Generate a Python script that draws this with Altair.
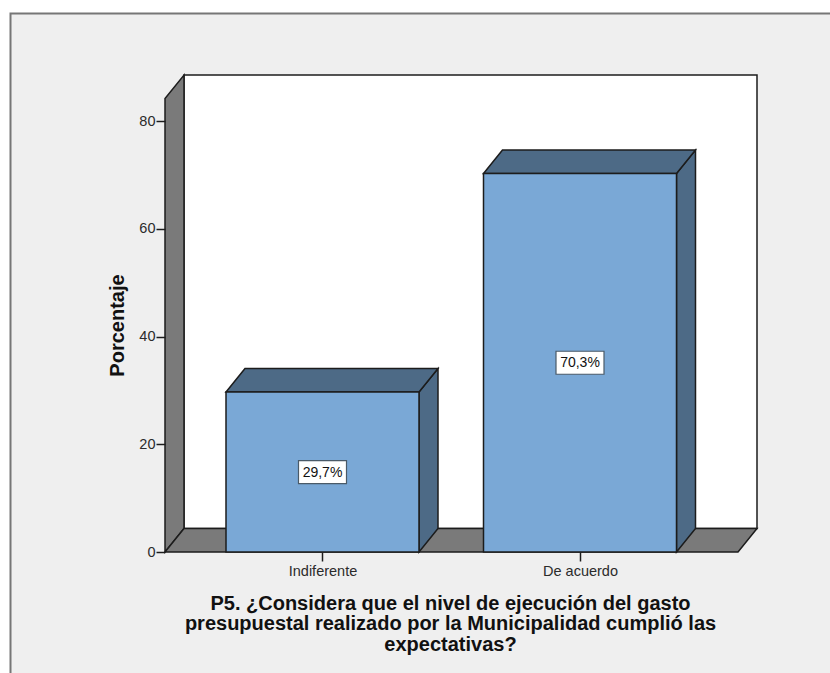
import altair as alt
import pandas as pd

# Chart values
categories = ["Indiferente", "De acuerdo"]
percentages = [29.7, 70.3]
y_ticks = [0, 20, 40, 60, 80]
x_title = [
    "P5. ¿Considera que el nivel de ejecución del gasto",
    "presupuestal realizado por la Municipalidad cumplió las",
    "expectativas?",
]
y_title = "Porcentaje"

# Layout of the pseudo-3D box, in pixels
LEFT, TOP = 165, 75
PLOT_W, PLOT_H = 592, 477
PX_PER_PCT = 5.384
SLOT_PX = 257.5
FIRST_CENTER_PX = 157.5
BAR_PX = 193
DEPTH_X_PX, DEPTH_Y_PX = 19, 23.5

x_min = -FIRST_CENTER_PX / SLOT_PX
x_max = (PLOT_W - FIRST_CENTER_PX) / SLOT_PX
y_max = PLOT_H / PX_PER_PCT
dx = DEPTH_X_PX / SLOT_PX
dy = DEPTH_Y_PX / PX_PER_PCT
half = BAR_PX / SLOT_PX / 2

x_scale = alt.Scale(domain=[x_min, x_max], nice=False, zero=False)
y_scale = alt.Scale(domain=[0, y_max], nice=False, zero=False)

INK = "#1c1c1c"
WALL = "#7a7a7a"
FRONT = "#7aa8d6"
SHADE = "#4d6a86"
PANEL = "#efefef"
FONT = "Liberation Sans"

X = lambda f: alt.X(f, type="quantitative", scale=x_scale)
Y = lambda f: alt.Y(f, type="quantitative", scale=y_scale)

# Grey panel with its frame running off the right and bottom edges
panel = alt.Chart(pd.DataFrame({"k": [0]})).mark_rect(
    fill=PANEL, stroke="#767676", strokeWidth=2
).encode(
    x=alt.value(10.5 - LEFT), x2=alt.value(850 - LEFT),
    y=alt.value(13.5 - TOP), y2=alt.value(700 - TOP),
)

# Back wall, carrying both axes
back = alt.Chart(pd.DataFrame({"x": [x_min + dx], "x2": [x_max], "y": [dy], "y2": [y_max]})).mark_rect(
    fill="white", stroke=INK, strokeWidth=1.5
).encode(
    x=alt.X("x:Q", scale=x_scale, title=x_title, axis=alt.Axis(
        values=[0, 1], labelExpr="%s[datum.value]" % str(categories),
        domain=False, grid=False, zindex=1, tickSize=9, tickColor=INK, tickWidth=1.5,
        labelPadding=3, labelFont=FONT, labelFontSize=14.5, labelColor="#2b2b2b", labelAngle=0,
        titleFont=FONT, titleFontSize=20, titleFontWeight="bold", titleColor="#111111",
        titleLineHeight=20.5, titleX=450 - LEFT, titleY=603 - 552, titleBaseline="middle",
        titleAlign="center",
    )),
    x2="x2:Q",
    y=alt.Y("y:Q", scale=y_scale, title=y_title, axis=alt.Axis(
        values=y_ticks, domain=False, grid=False, zindex=1, tickSize=9, tickColor=INK, tickWidth=1.5,
        labelPadding=1, labelFont=FONT, labelFontSize=14.5, labelColor="#2b2b2b",
        titleFont=FONT, titleFontSize=20, titleFontWeight="bold", titleColor="#111111",
        titleX=117 - LEFT, titleY=325 - TOP, titleBaseline="middle", titleAlign="center",
    )),
    y2="y2:Q",
)

# Left wall: vertical edges at the front and back of the box
left_wall = alt.Chart(pd.DataFrame({
    "x": [x_min, x_min + dx], "low": [0, dy], "high": [y_max - dy, y_max],
})).mark_area(fill=WALL, stroke=INK, strokeWidth=1.5).encode(
    x=X("x"), y=alt.Y("low:Q", scale=y_scale, stack=None), y2="high:Q",
)

# Floor: horizontal edges at the front and back of the box
floor = alt.Chart(pd.DataFrame({
    "y": [0, dy], "a": [x_min, x_min + dx], "b": [x_max - dx, x_max],
})).mark_area(orient="horizontal", fill=WALL, stroke=INK, strokeWidth=1.5).encode(
    y=Y("y"), x=alt.X("a:Q", scale=x_scale, stack=None), x2="b:Q",
)

# Faces of each bar, derived from its percentage
sides, tops, fronts, labels = [], [], [], []
for i, (cat, v) in enumerate(zip(categories, percentages)):
    sides += [
        {"bar": cat, "x": i + half, "low": 0, "high": v},
        {"bar": cat, "x": i + half + dx, "low": dy, "high": v + dy},
    ]
    tops += [
        {"bar": cat, "y": v, "a": i - half, "b": i + half},
        {"bar": cat, "y": v + dy, "a": i - half + dx, "b": i + half + dx},
    ]
    fronts.append({"bar": cat, "a": i - half, "b": i + half, "v": v})
    labels.append({"x": i, "y": v / 2, "text": f"{v:.1f}%".replace(".", ",")})

bar_sides = alt.Chart(pd.DataFrame(sides)).mark_area(fill=SHADE, stroke=INK, strokeWidth=1.5).encode(
    x=X("x"), y=alt.Y("low:Q", scale=y_scale, stack=None), y2="high:Q", detail="bar:N",
)
bar_tops = alt.Chart(pd.DataFrame(tops)).mark_area(
    orient="horizontal", fill=SHADE, stroke=INK, strokeWidth=1.5
).encode(
    y=Y("y"), x=alt.X("a:Q", scale=x_scale, stack=None), x2="b:Q", detail="bar:N",
)
base = pd.DataFrame(fronts).assign(zero=0)
bar_fronts = alt.Chart(base).mark_rect(fill=FRONT, stroke=INK, strokeWidth=1.5).encode(
    x=X("a"), x2="b:Q", y=Y("zero"), y2="v:Q",
)

label_df = pd.DataFrame(labels)
boxes = alt.Chart(label_df).mark_rect(
    width=48, height=23, fill="white", stroke="#4a5a68", strokeWidth=1.2
).encode(x=X("x"), y=Y("y"))
texts = alt.Chart(label_df).mark_text(
    font=FONT, fontSize=14, color="#111111", baseline="middle", dy=0.5
).encode(x=X("x"), y=Y("y"), text="text:N")

chart = alt.layer(
    back, panel, back, left_wall, floor, bar_sides, bar_tops, bar_fronts, boxes, texts
).properties(
    width=PLOT_W,
    height=PLOT_H,
    background="white",
    padding={"left": LEFT, "top": TOP, "right": 830 - LEFT - PLOT_W, "bottom": 673 - TOP - PLOT_H},
    autosize=alt.AutoSizeParams(type="none"),
).configure_view(stroke=None)

chart.save("out.html", embed_options={"renderer": "svg", "actions": False})
